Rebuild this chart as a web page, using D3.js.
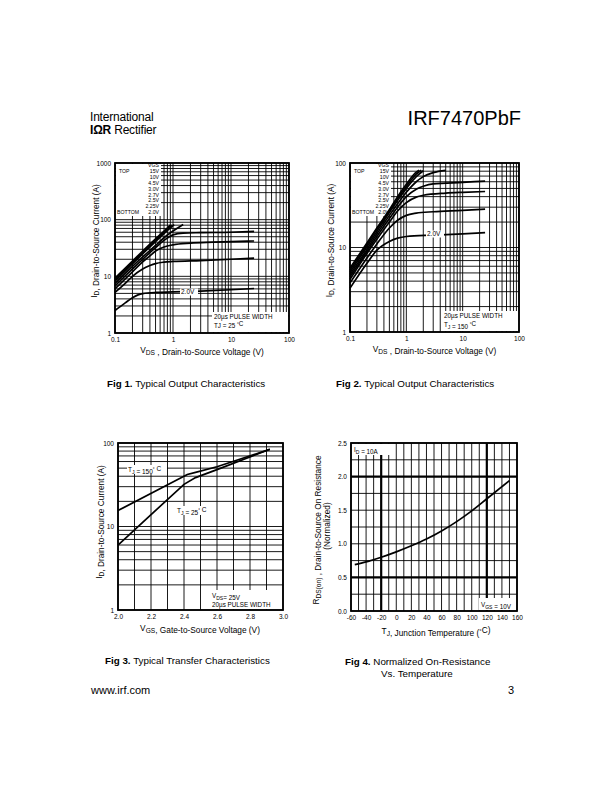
<!DOCTYPE html>
<html>
<head>
<meta charset="utf-8">
<script src="https://cdn.jsdelivr.net/npm/d3@7"></script>
<style>
  body { margin: 0; background: #fff; }
  svg { display: block; }
  text { font-family: "Liberation Sans", Arial, Helvetica, sans-serif; fill: #000; }
</style>
</head>
<body>
<svg id="page" width="612" height="792"></svg>
<script>
// ---------------- data ----------------
const vgsSteps = ["15V", "10V", "4.5V", "3.0V", "2.7V", "2.5V", "2.25V", "2.0V"];

// Fig 1, TJ = 25 C : [VDS (V), ID (A)]
const fig1_15V  = [[0.1, 9.3], [0.2, 18.5], [0.3, 28], [0.5, 46], [0.7, 63], [0.9, 80]];
const fig1_10V  = [[0.1, 8.8], [0.2, 17.5], [0.3, 26], [0.5, 43], [0.7, 60], [0.95, 80]];
const fig1_4V5  = [[0.1, 8.2], [0.2, 16.5], [0.3, 25], [0.5, 41], [0.7, 57], [1.05, 82]];
const fig1_3V0  = [[0.1, 7.5], [0.2, 15], [0.3, 22], [0.5, 35], [0.7, 48], [1.0, 63], [1.5, 82]];
const fig1_2V7  = [[0.1, 6.8], [0.2, 13.5], [0.3, 20], [0.5, 32], [0.7, 43], [1.0, 54], [1.5, 58], [3, 59], [10, 60], [25, 62]];
const fig1_2V5  = [[0.1, 6.0], [0.2, 12], [0.3, 18], [0.4, 23], [0.5, 28], [0.7, 33], [1.0, 36], [2, 38.5], [5, 40], [10, 41], [25, 42]];
const fig1_2V25 = [[0.1, 5.2], [0.15, 7.5], [0.2, 10], [0.3, 13.5], [0.4, 15.5], [0.5, 16.8], [0.7, 17.8], [1.0, 18.3], [3, 19], [10, 20], [25, 21]];
const fig1_2V0  = [[0.1, 2.5], [0.15, 3.4], [0.2, 4.2], [0.25, 4.7], [0.3, 4.95], [0.5, 5.2], [1.0, 5.3], [3, 5.5], [10, 5.8], [25, 6.1]];

// Fig 2, TJ = 150 C : [VDS (V), ID (A)]
const fig2_15V  = [[0.1, 5.7], [0.2, 11.3], [0.3, 17], [0.5, 28], [0.7, 40], [1.0, 56], [1.5, 78], [1.7, 82]];
const fig2_10V  = [[0.1, 5.4], [0.2, 10.8], [0.3, 16.5], [0.5, 27], [0.7, 38], [1.0, 53], [1.5, 74], [1.85, 82]];
const fig2_4V5  = [[0.1, 5.1], [0.2, 10.2], [0.3, 15.5], [0.5, 26], [0.7, 36], [1.0, 50], [1.5, 69], [2.0, 81]];
const fig2_3V0  = [[0.1, 4.8], [0.2, 9.5], [0.3, 14.5], [0.5, 24], [0.7, 33], [1.0, 45], [1.5, 60], [2, 69], [3, 77], [5, 82]];
const fig2_2V7  = [[0.1, 4.5], [0.2, 9], [0.3, 13.5], [0.5, 22], [0.7, 30], [1.0, 40], [1.5, 49], [2, 53], [3, 56.5], [10, 59], [25, 61]];
const fig2_2V5  = [[0.1, 4.2], [0.2, 8.5], [0.3, 12.5], [0.5, 20], [0.7, 27], [1.0, 34], [1.5, 39.5], [2, 41.5], [5, 44], [10, 45], [25, 46]];
const fig2_2V25 = [[0.1, 3.8], [0.2, 7.5], [0.3, 11], [0.5, 17], [0.7, 21], [1.0, 24], [1.5, 25.5], [3, 26.5], [10, 27.5], [25, 28.5]];
const fig2_2V0  = [[0.1, 3.3], [0.2, 6.5], [0.3, 9.3], [0.5, 11.8], [0.7, 12.9], [1.0, 13.5], [3, 14], [10, 14.5], [25, 15]];

// Fig 3, VDS = 25V : VGS (V) and ID (A)
const fig3Vgs150 = [2.0, 2.42, 2.47, 2.6, 2.92];
const fig3Id150  = [15.5, 42, 44.5, 52, 84];
const fig3Vgs25  = [2.0, 2.40, 2.47, 2.6, 2.92];
const fig3Id25   = [6.0, 32, 38.5, 48, 84];

// Fig 4, ID = 10A : TJ (C) and normalized RDS(on)
const fig4Temp = [-55, -40, -20, 0, 20, 40, 60, 80, 100, 120, 140, 150];
const fig4Rds  = [0.69, 0.73, 0.80, 0.88, 0.97, 1.07, 1.19, 1.33, 1.49, 1.67, 1.85, 1.94];

// tick labels
const logDecadesX = [0.1, 1, 10, 100];
const fig1DecadesY = [1, 10, 100, 1000];
const fig2DecadesY = [1, 10, 100];
const fig3TicksX = [2.0, 2.2, 2.4, 2.6, 2.8, 3.0];
const fig4TicksX = [-60, -40, -20, 0, 20, 40, 60, 80, 100, 120, 140, 160];
const fig4TicksY = [0.0, 0.5, 1.0, 1.5, 2.0, 2.5];

// ---------------- helpers ----------------
const svg = d3.select("#page");

function txt(g, x, y, parts, size, opts = {}) {
  const t = g.append("text")
    .attr("x", x).attr("y", y)
    .attr("font-size", size)
    .attr("text-anchor", opts.anchor || "start");
  if (opts.rotate) t.attr("transform", `rotate(-90,${x},${y})`);
  if (opts.weight) t.attr("font-weight", opts.weight);
  parts.forEach(p => {
    if (typeof p === "string") {
      t.append("tspan").text(p);
    } else {
      // [text, "sub"] / [text, "sup"] / [text, "bold"]
      const s = t.append("tspan").text(p[0]);
      if (p[1] === "sub") s.attr("font-size", size * 0.8).attr("dy", size * 0.25);
      if (p[1] === "sup") s.attr("font-size", size * 0.7).attr("dy", -size * 0.35);
      if (p[1] === "bold") s.attr("font-weight", "bold");
      if (p[1] === "sub" || p[1] === "sup") {
        t.append("tspan").attr("dy", p[1] === "sub" ? -size * 0.25 : size * 0.35).text("");
      }
    }
  });
  return t;
}

function drawGrid(g, x, y, box, xVals, yVals, thickX = [], thickY = []) {
  g.append("g").selectAll("line").data(xVals).join("line")
    .attr("x1", d => x(d)).attr("x2", d => x(d))
    .attr("y1", box.y0).attr("y2", box.y1)
    .attr("stroke", "#000")
    .attr("stroke-width", d => thickX.includes(d) ? 2.2 : 0.9);
  g.append("g").selectAll("line").data(yVals).join("line")
    .attr("y1", d => y(d)).attr("y2", d => y(d))
    .attr("x1", box.x0).attr("x2", box.x1)
    .attr("stroke", "#000")
    .attr("stroke-width", d => thickY.includes(d) ? 2.2 : 0.9);
}

function drawBorder(g, box) {
  g.append("rect")
    .attr("x", box.x0).attr("y", box.y0)
    .attr("width", box.x1 - box.x0).attr("height", box.y1 - box.y0)
    .attr("fill", "none").attr("stroke", "#000").attr("stroke-width", 1.8);
}

function drawAxes(g, x, y, box, xTicks, yTicks, fx, fy) {
  const ax = g.append("g")
    .attr("transform", `translate(0,${box.y1})`)
    .call(d3.axisBottom(x).tickValues(xTicks).tickSize(0).tickPadding(4).tickFormat(fx));
  const ay = g.append("g")
    .attr("transform", `translate(${box.x0},0)`)
    .call(d3.axisLeft(y).tickValues(yTicks).tickSize(0).tickPadding(4).tickFormat(fy));
  [ax, ay].forEach(a => {
    a.select(".domain").remove();
    a.selectAll("text").attr("font-size", 6.5).attr("font-family", null).attr("fill", "#000");
  });
}

function whiteBox(g, x, y, w, h) {
  g.append("rect").attr("x", x).attr("y", y).attr("width", w).attr("height", h).attr("fill", "#fff");
}

function logGridValues(lo, hi) {
  return d3.scaleLog().domain([lo, hi]).ticks();
}

// ---------------- page header / footer ----------------
txt(svg, 90, 121, ["International"], 12, { weight: "300" }).attr("letter-spacing", -0.2).attr("fill", "#333");
txt(svg, 90, 134, [["IΩR", "bold"], " Rectifier"], 12).attr("letter-spacing", -0.2).attr("fill", "#333");
txt(svg, 521, 125, ["IRF7470PbF"], 20, { anchor: "end" });
txt(svg, 91, 694, ["www.irf.com"], 11);
txt(svg, 514, 694, ["3"], 11, { anchor: "end" });

// ---------------- Fig 1 & Fig 2: output characteristics ----------------
function outputChart(box, yMax, series, decadesY, tjParts, labelPos, legendW) {
  const g = svg.append("g");
  const x = d3.scaleLog().domain([0.1, 100]).range([box.x0, box.x1]);
  const y = d3.scaleLog().domain([1, yMax]).range([box.y1, box.y0]);

  drawGrid(g, x, y, box, logGridValues(0.1, 100), logGridValues(1, yMax));

  // legend block
  whiteBox(g, box.x0 + 1, box.y0 + 1, legendW, 52);
  const lx = box.x0 + legendW - 1;
  const ly0 = box.y0 + 4;
  const rows = ["VGS"].concat(vgsSteps);
  rows.forEach((r, i) => {
    txt(g, lx, ly0 + i * 5.9, [r], 5.2, { anchor: "end" });
  });
  txt(g, box.x0 + 4, ly0 + 5.9, ["TOP"], 5.2);
  txt(g, box.x0 + 2, ly0 + 8 * 5.9, ["BOTTOM"], 5.2);

  const line = d3.line().x(d => x(d[0])).y(d => y(d[1])).curve(d3.curveMonotoneX);
  g.append("g").selectAll("path").data(series).join("path")
    .attr("d", line)
    .attr("fill", "none").attr("stroke", "#000").attr("stroke-width", 1.7);

  // 2.0V label
  whiteBox(g, labelPos[0] - 1, labelPos[1] - 5.5, 18, 7);
  txt(g, labelPos[0], labelPos[1], ["2.0V"], 6.5);

  // pulse width box
  whiteBox(g, box.x1 - 77, box.y1 - 21, 76, 20);
  txt(g, box.x1 - 75, box.y1 - 14, ["20µs PULSE WIDTH"], 6.3);
  txt(g, box.x1 - 75, box.y1 - 5, tjParts, 6.3);

  drawBorder(g, box);
  drawAxes(g, x, y, box, logDecadesX, decadesY, d3.format("~g"), d3.format("~g"));

  const cx = (box.x0 + box.x1) / 2;
  txt(g, cx, box.y1 + 20, [["V"], ["DS", "sub"], " , Drain-to-Source Voltage (V)"], 8.3, { anchor: "middle" });
  txt(g, box.x0 - 18, (box.y0 + box.y1) / 2 - 7,
      [["I"], ["D", "sub"], ",  Drain-to-Source Current (A)"], 8.3, { anchor: "middle", rotate: true });
  return g;
}

const fig1Box = { x0: 115, x1: 289, y0: 163, y1: 333 };
outputChart(fig1Box, 1000,
  [fig1_15V, fig1_10V, fig1_4V5, fig1_3V0, fig1_2V7, fig1_2V5, fig1_2V25, fig1_2V0],
  fig1DecadesY, ["TJ = 25 ", ["°", "sup"], "C"], [181, 294], 45);

const fig2Box = { x0: 350, x1: 519, y0: 163, y1: 332 };
outputChart(fig2Box, 100,
  [fig2_15V, fig2_10V, fig2_4V5, fig2_3V0, fig2_2V7, fig2_2V5, fig2_2V25, fig2_2V0],
  fig2DecadesY, ["T", ["J", "sub"], " = 150 ", ["°", "sup"], "C"], [427, 236], 40);

// ---------------- Fig 3: transfer characteristics ----------------
{
  const box = { x0: 118, x1: 283, y0: 443, y1: 610 };
  const g = svg.append("g");
  const x = d3.scaleLinear().domain([2.0, 3.0]).range([box.x0, box.x1]);
  const y = d3.scaleLog().domain([1, 100]).range([box.y1, box.y0]);
  drawGrid(g, x, y, box, d3.range(2.0, 3.0001, 0.1).map(v => +v.toFixed(1)), logGridValues(1, 100));

  const line = d3.line().x(d => x(d[0])).y(d => y(d[1]));
  const s150 = fig3Vgs150.map((v, i) => [v, fig3Id150[i]]);
  const s25 = fig3Vgs25.map((v, i) => [v, fig3Id25[i]]);
  g.append("g").selectAll("path").data([s150, s25]).join("path")
    .attr("d", line)
    .attr("fill", "none").attr("stroke", "#000").attr("stroke-width", 1.7);

  whiteBox(g, 127, 465, 40, 9);
  txt(g, 128, 472, ["T", ["J", "sub"], " = 150", ["°", "sup"], " C"], 6.5);
  whiteBox(g, 176, 506, 36, 9);
  txt(g, 177, 513, ["T", ["J", "sub"], " = 25", ["°", "sup"], " C"], 6.5);

  whiteBox(g, 209, 590, 73, 19);
  txt(g, 212, 598, ["V", ["DS", "sub"], "= 25V"], 6.3);
  txt(g, 212, 606.5, ["20µs PULSE WIDTH"], 6.3);

  drawBorder(g, box);
  drawAxes(g, x, y, box, fig3TicksX, fig2DecadesY, d3.format(".1f"), d3.format("~g"));

  txt(g, 200, 631, [["V"], ["GS", "sub"], ", Gate-to-Source Voltage (V)"], 8.3, { anchor: "middle" });
  txt(g, box.x0 - 16, 522, [["I"], ["D", "sub"], ",   Drain-to-Source Current (A)"], 8.3, { anchor: "middle", rotate: true });
}

// ---------------- Fig 4: normalized on-resistance ----------------
{
  const box = { x0: 351, x1: 517, y0: 443, y1: 611 };
  const g = svg.append("g");
  const x = d3.scaleLinear().domain([-60, 160]).range([box.x0, box.x1]);
  const y = d3.scaleLinear().domain([0, 2.5]).range([box.y1, box.y0]);
  drawGrid(g, x, y, box, d3.range(-60, 161, 10), d3.range(0, 2.51, 0.25), [-20, 120], [0.5, 2.0]);

  whiteBox(g, box.x0 + 1, box.y0 + 1, 41, 11);
  txt(g, box.x0 + 3, box.y0 + 9, [["I"], ["D", "sub"], " = 10A"], 6.3);
  whiteBox(g, box.x1 - 38, box.y1 - 13, 37, 12);
  txt(g, box.x1 - 36, box.y1 - 4, [["V"], ["GS", "sub"], " = 10V"], 6.3);

  const line = d3.line().x((d, i) => x(fig4Temp[i])).y(d => y(d)).curve(d3.curveMonotoneX);
  g.append("path").datum(fig4Rds)
    .attr("d", line)
    .attr("fill", "none").attr("stroke", "#000").attr("stroke-width", 1.7);

  drawBorder(g, box);
  drawAxes(g, x, y, box, fig4TicksX, fig4TicksY, d => String(d), d3.format(".1f"));

  txt(g, 436, 634, [["T"], ["J", "sub"], ", Junction Temperature (", ["°", "sup"], "C)"], 8.3, { anchor: "middle" });
  txt(g, 319, 530, [["R"], ["DS(on)", "sub"], " ,  Drain-to-Source On Resistance"], 8.3, { anchor: "middle", rotate: true });
  txt(g, 330, 526, ["(Normalized)"], 8.3, { anchor: "middle", rotate: true });
}

// ---------------- captions ----------------
txt(svg, 107, 387, [["Fig 1.", "bold"], "  Typical Output Characteristics"], 9.8);
txt(svg, 336, 387, [["Fig 2.", "bold"], "  Typical Output Characteristics"], 9.8);
txt(svg, 105, 664, [["Fig 3.", "bold"], "  Typical Transfer Characteristics"], 9.8);
txt(svg, 345, 665, [["Fig 4.", "bold"], "  Normalized On-Resistance"], 9.8);
txt(svg, 381, 677, ["Vs. Temperature"], 9.8);
</script>
</body>
</html>
